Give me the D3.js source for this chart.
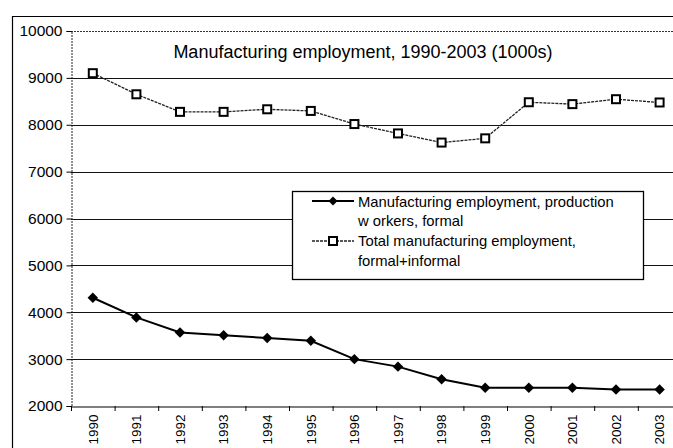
<!DOCTYPE html>
<html>
<head>
<meta charset="utf-8">
<script src="https://cdn.jsdelivr.net/npm/d3@7"></script>
<style>
html,body{margin:0;padding:0;background:#fff;}
svg{display:block;font-family:"Liberation Sans",Arial,sans-serif;}
</style>
</head>
<body>
<svg id="chart" width="673" height="448"></svg>
<script>
const years = ["1990","1991","1992","1993","1994","1995","1996","1997","1998","1999","2000","2001","2002","2003"];
const productionFormal = [4310,3890,3570,3510,3450,3390,3000,2840,2570,2390,2390,2390,2350,2350];
const totalFormalInformal = [9100,8650,8275,8275,8330,8295,8015,7815,7620,7710,8480,8440,8545,8475];
const yTicks = [2000,3000,4000,5000,6000,7000,8000,9000,10000];
const titleText = "Manufacturing employment, 1990-2003 (1000s)";
const legendProd = ["Manufacturing employment, production", "w orkers, formal"];
const legendTotal = ["Total manufacturing employment,", "formal+informal"];

const svg = d3.select("#chart");
const W = 673, H = 448;
const plot = {left: 71, top: 31, bottom: 406, right: 71 + 14 * 43.6};

const x = d3.scaleBand().domain(years).range([plot.left, plot.right]);
const y = d3.scaleLinear().domain([2000, 10000]).range([plot.bottom, plot.top]);

// outer chart border
svg.append("line").attr("x1", 12).attr("x2", W).attr("y1", 16.5).attr("y2", 16.5)
  .attr("stroke", "#000").attr("stroke-width", 1.2);
svg.append("line").attr("x1", 12.5).attr("x2", 12.5).attr("y1", 16).attr("y2", H)
  .attr("stroke", "#000").attr("stroke-width", 1.2);

// gridlines
svg.append("g").selectAll("line").data(yTicks.filter(d => d > 2000 && d < 10000)).join("line")
  .attr("x1", plot.left).attr("x2", W)
  .attr("y1", d => Math.round(y(d)) + 0.5).attr("y2", d => Math.round(y(d)) + 0.5)
  .attr("stroke", "#111").attr("stroke-width", 1);

// plot top border (dotted)
svg.append("line").attr("x1", plot.left).attr("x2", W).attr("y1", plot.top + 0.5).attr("y2", plot.top + 0.5)
  .attr("stroke", "#333").attr("stroke-width", 1).attr("stroke-dasharray", "2,1");

// y axis
const yAxis = d3.axisLeft(y).tickValues(yTicks).tickSize(5).tickPadding(4).tickFormat(d3.format("d"));
const gy = svg.append("g").attr("transform", `translate(${plot.left + 0.5},0)`).call(yAxis);
gy.select(".domain").attr("stroke", "#222").attr("stroke-dasharray", "2,1");
gy.selectAll(".tick line").attr("stroke", "#000");
gy.selectAll("text").attr("font-size", 15.5).attr("fill", "#000")
  .attr("font-family", "Liberation Sans, Arial, sans-serif");

// x axis
const xAxis = d3.axisBottom(x).tickSize(0).tickFormat(d => d);
const gx = svg.append("g").attr("transform", `translate(0,${plot.bottom + 0.5})`).call(xAxis);
gx.select(".domain").attr("stroke", "#000").attr("stroke-width", 1.2);
gx.selectAll("text")
  .attr("font-size", 13.5).attr("fill", "#000")
  .attr("font-family", "Liberation Sans, Arial, sans-serif")
  .attr("text-anchor", "end")
  .attr("dy", "0.35em")
  .attr("transform", "translate(0,8) rotate(-90)")
  .attr("x", 0).attr("y", 0);
// band boundary ticks
svg.append("g").selectAll("line").data(years).join("line")
  .attr("x1", d => x(d) + 0.5).attr("x2", d => x(d) + 0.5)
  .attr("y1", plot.bottom).attr("y2", plot.bottom + 5)
  .attr("stroke", "#000");

// title
svg.append("text").attr("x", 363).attr("y", 58).attr("text-anchor", "middle")
  .attr("font-size", 18).attr("fill", "#000").text(titleText);

const cx = d => x(d) + x.bandwidth() / 2;

// total series
const lineTotal = d3.line().x((d, i) => cx(years[i])).y(d => y(d));
svg.append("path").datum(totalFormalInformal).attr("d", lineTotal)
  .attr("fill", "none").attr("stroke", "#222").attr("stroke-width", 1.3).attr("stroke-dasharray", "3,1");
svg.append("g").selectAll("rect").data(totalFormalInformal).join("rect")
  .attr("x", (d, i) => cx(years[i]) - 4).attr("y", d => y(d) - 4)
  .attr("width", 8).attr("height", 8)
  .attr("fill", "#fff").attr("stroke", "#000").attr("stroke-width", 2);

// production series
const lineProd = d3.line().x((d, i) => cx(years[i])).y(d => y(d));
svg.append("path").datum(productionFormal).attr("d", lineProd)
  .attr("fill", "none").attr("stroke", "#000").attr("stroke-width", 2);
svg.append("g").selectAll("path").data(productionFormal).join("path")
  .attr("d", d3.symbol().type(d3.symbolSquare).size(55)())
  .attr("transform", (d, i) => `translate(${cx(years[i])},${y(d)}) rotate(45)`)
  .attr("fill", "#000");

// legend
const lg = svg.append("g");
lg.append("rect").attr("x", 292.5).attr("y", 191.5).attr("width", 351).attr("height", 88)
  .attr("fill", "#fff").attr("stroke", "#000").attr("stroke-width", 1.3);
lg.append("line").attr("x1", 312).attr("x2", 354).attr("y1", 201).attr("y2", 201)
  .attr("stroke", "#000").attr("stroke-width", 2);
lg.append("path").attr("d", d3.symbol().type(d3.symbolSquare).size(40)())
  .attr("transform", "translate(333,201) rotate(45)").attr("fill", "#000");
lg.append("line").attr("x1", 312).attr("x2", 354).attr("y1", 241).attr("y2", 241)
  .attr("stroke", "#222").attr("stroke-width", 1.3).attr("stroke-dasharray", "3,1");
lg.append("rect").attr("x", 329).attr("y", 237).attr("width", 8).attr("height", 8)
  .attr("fill", "#fff").attr("stroke", "#000").attr("stroke-width", 2);
const legLines = [[legendProd[0], 207], [legendProd[1], 226], [legendTotal[0], 246], [legendTotal[1], 266]];
lg.selectAll("text").data(legLines).join("text")
  .attr("x", 358).attr("y", d => d[1]).attr("font-size", 14.8).attr("fill", "#000")
  .text(d => d[0]);
</script>
</body>
</html>
